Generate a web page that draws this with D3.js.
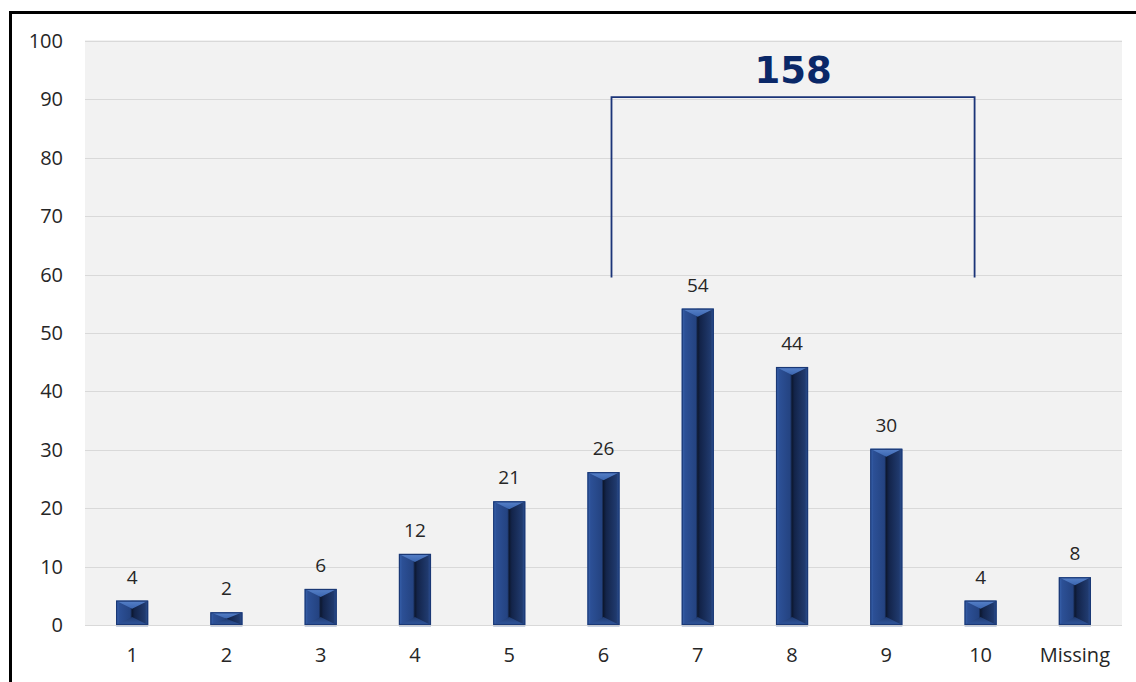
<!DOCTYPE html>
<html>
<head>
<meta charset="utf-8">
<script src="https://cdn.jsdelivr.net/npm/d3@7"></script>
<style>
  html, body { margin: 0; padding: 0; background: #ffffff; }
  svg { display: block; }
</style>
</head>
<body>
<svg id="chart" width="1136" height="682"></svg>
<script>
// Response counts per score
const categories = ["1", "2", "3", "4", "5", "6", "7", "8", "9", "10", "Missing"];
const counts = [4, 2, 6, 12, 21, 26, 54, 44, 30, 4, 8];
const yTicks = [0, 10, 20, 30, 40, 50, 60, 70, 80, 90, 100];

// Bracket grouping scores 6 through 10 with their total
const bracketFrom = "6";
const bracketTo = "10";
const bracketTop = 90.4;
const bracketBottom = 59.5;
const bracketTotal = d3.sum(counts.filter((d, i) => {
  const k = categories.indexOf(bracketFrom), j = categories.indexOf(bracketTo);
  return i >= k && i <= j;
}));

const svg = d3.select("#chart");
const plot = { left: 85, right: 1122, top: 40, bottom: 625 };
const labelFont = "'Open Sans', 'Noto Sans', sans-serif";

const x = d3.scaleBand()
  .domain(categories)
  .range([plot.left, plot.right])
  .paddingInner(0.66)
  .paddingOuter(0.33);

const y = d3.scaleLinear()
  .domain([0, 100])
  .range([plot.bottom, 41]);

// Outer frame
svg.append("path")
  .attr("d", `M10.5,700 L10.5,12.5 L1140,12.5`)
  .attr("fill", "none")
  .attr("stroke", "#000")
  .attr("stroke-width", 3);

// Plot background
svg.append("rect")
  .attr("x", plot.left).attr("y", plot.top)
  .attr("width", plot.right - plot.left)
  .attr("height", plot.bottom - plot.top)
  .attr("fill", "#f2f2f2");

// Gridlines
svg.append("g")
  .selectAll("line")
  .data(yTicks)
  .join("line")
  .attr("x1", plot.left).attr("x2", plot.right)
  .attr("y1", d => Math.round(y(d)) + 0.5)
  .attr("y2", d => Math.round(y(d)) + 0.5)
  .attr("stroke", "#d9d9d9")
  .attr("stroke-width", 1.2);

// Y axis labels
const yAxis = d3.axisLeft(y).tickValues(yTicks).tickSize(0).tickPadding(0);
svg.append("g")
  .attr("transform", "translate(63,0)")
  .call(yAxis)
  .call(g => g.select(".domain").remove())
  .call(g => g.selectAll("text")
    .attr("font-family", labelFont)
    .attr("font-size", 20)
    .attr("fill", "#262626"));

// X axis labels
const xAxis = d3.axisBottom(x).tickSize(0).tickPadding(0);
svg.append("g")
  .attr("transform", "translate(0,648)")
  .call(xAxis)
  .call(g => g.select(".domain").remove())
  .call(g => g.selectAll("text")
    .attr("font-family", labelFont)
    .attr("font-size", 20)
    .attr("fill", "#262626"));

// Gradients for the bevelled bars
const defs = svg.append("defs");
const face = defs.append("linearGradient").attr("id", "barFace")
  .attr("x1", "0").attr("x2", "1").attr("y1", "0").attr("y2", "0");
[[0, "#3b66b2"], [0.1, "#2c5096"], [0.44, "#244381"], [0.5, "#0d1830"],
 [0.58, "#13244a"], [0.9, "#203a6e"], [1, "#2f5498"]]
  .forEach(([o, c]) => face.append("stop").attr("offset", o).attr("stop-color", c));

const topG = defs.append("linearGradient").attr("id", "barTop")
  .attr("x1", "0").attr("x2", "0").attr("y1", "0").attr("y2", "1");
[[0, "#5882c9"], [1, "#3a65b0"]]
  .forEach(([o, c]) => topG.append("stop").attr("offset", o).attr("stop-color", c));

const botG = defs.append("linearGradient").attr("id", "barBottom")
  .attr("x1", "0").attr("x2", "0").attr("y1", "0").attr("y2", "1");
[[0, "#1f3a70"], [1, "#3259a0"]]
  .forEach(([o, c]) => botG.append("stop").attr("offset", o).attr("stop-color", c));

// Bars
const bars = svg.append("g")
  .selectAll("g")
  .data(categories.map((c, i) => ({ cat: c, value: counts[i] })))
  .join("g");

bars.each(function(d) {
  const g = d3.select(this);
  const x0 = x(d.cat), x1 = x0 + x.bandwidth(), xm = (x0 + x1) / 2;
  const y0 = y(d.value) - 1, y1 = y(0);
  const t = Math.min(8, (y1 - y0) / 2);

  g.append("rect")
    .attr("x", x0).attr("y", y0)
    .attr("width", x1 - x0).attr("height", y1 - y0)
    .attr("fill", "url(#barFace)");

  g.append("path")
    .attr("d", `M${x0},${y0} L${x1},${y0} L${xm},${y0 + t} Z`)
    .attr("fill", "url(#barTop)");

  g.append("path")
    .attr("d", `M${x0},${y1} L${x1},${y1} L${xm},${y1 - t} Z`)
    .attr("fill", "url(#barBottom)");

  g.append("rect")
    .attr("x", x0 + 0.5).attr("y", y0 + 0.5)
    .attr("width", x1 - x0 - 1).attr("height", y1 - y0 - 1)
    .attr("fill", "none")
    .attr("stroke", "#1a3875")
    .attr("stroke-width", 1.2);

  // faint light edge under the bar
  g.append("line")
    .attr("x1", x0).attr("x2", x1)
    .attr("y1", y1 + 1.5).attr("y2", y1 + 1.5)
    .attr("stroke", "#c9d2e2")
    .attr("stroke-width", 1.2);
});

// Value labels
svg.append("g")
  .selectAll("text")
  .data(categories.map((c, i) => ({ cat: c, value: counts[i] })))
  .join("text")
  .attr("x", d => x(d.cat) + x.bandwidth() / 2)
  .attr("y", d => y(d.value) - 18)
  .attr("text-anchor", "middle")
  .attr("font-family", labelFont)
  .attr("font-size", 19)
  .attr("fill", "#262626")
  .text(d => d.value);

// Bracket over the 6–10 group
const bx0 = x(bracketFrom) + x.bandwidth() / 2 + 8;
const bx1 = x(bracketTo) + x.bandwidth() / 2 - 6;
svg.append("path")
  .attr("d", `M${bx0},${y(bracketBottom)} L${bx0},${y(bracketTop)} L${bx1},${y(bracketTop)} L${bx1},${y(bracketBottom)}`)
  .attr("fill", "none")
  .attr("stroke", "#1b3478")
  .attr("stroke-width", 1.8);

svg.append("text")
  .attr("x", (bx0 + bx1) / 2)
  .attr("y", 83)
  .attr("text-anchor", "middle")
  .attr("font-family", "'DejaVu Sans', Verdana, sans-serif")
  .attr("font-weight", "bold")
  .attr("font-size", 37)
  .attr("fill", "#0a2868")
  .text(bracketTotal);
</script>
</body>
</html>
